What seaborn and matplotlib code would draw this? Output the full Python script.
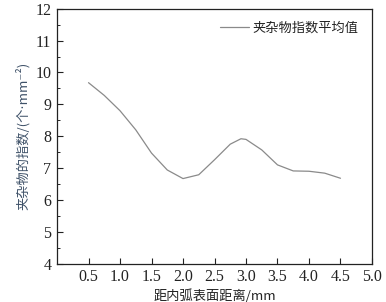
import matplotlib
matplotlib.use("Agg")
import matplotlib.pyplot as plt
from matplotlib.ticker import MultipleLocator
import pandas as pd
import seaborn as sns

# values (distance in mm, inclusion index)
distance = [0.5, 0.75, 1.0, 1.25, 1.5, 1.75, 2.0, 2.25, 2.5, 2.75,
            2.92, 3.0, 3.25, 3.5, 3.75, 4.0, 4.25, 4.5]
index_mean = [9.68, 9.28, 8.80, 8.20, 7.47, 6.94, 6.67, 6.79, 7.26, 7.75,
              7.92, 7.90, 7.57, 7.10, 6.91, 6.90, 6.84, 6.68]
x_ticks = [0.5, 1.0, 1.5, 2.0, 2.5, 3.0, 3.5, 4.0, 4.5, 5.0]
y_ticks = [4, 5, 6, 7, 8, 9, 10, 11, 12]

series_name = "夹杂物指数平均值"
x_label = "距内弧表面距离/mm"
y_label = "夹杂物的指数/(个⋅mm⁻²)"

sns.set_style("ticks")
plt.rcParams["font.family"] = ["Liberation Serif", "DejaVu Sans"]
cjk = ["Noto Sans CJK SC", "DejaVu Sans"]

df = pd.DataFrame({"distance": distance, "value": index_mean})

fig = plt.figure(figsize=(3.86, 3.02), dpi=100)
ax = fig.add_axes([0.1477, 0.127, 0.816, 0.844])

sns.lineplot(data=df, x="distance", y="value", ax=ax, color="#8a8a8a",
             linewidth=0.9, label=series_name)

ax.set_xlim(0, 5.0)
ax.set_ylim(4, 12)
ax.set_xticks(x_ticks)
ax.set_xticklabels([f"{t:.1f}" for t in x_ticks])
ax.set_yticks(y_ticks)
ax.yaxis.set_minor_locator(MultipleLocator(0.5))
ax.tick_params(axis="both", which="major", direction="in", length=4,
               width=0.8, labelsize=11.5, colors="#222222", pad=4)
ax.tick_params(axis="y", which="minor", direction="in", length=2.5, width=0.7)
for s in ax.spines.values():
    s.set_linewidth(0.9)
    s.set_color("#222222")

ax.set_xlabel(x_label, family=cjk, fontsize=9.5, color="#222222", labelpad=3)
ax.set_ylabel(y_label, family=cjk, fontsize=9.5, color="#3e5168", labelpad=4)

leg = ax.legend(loc="upper right", frameon=False, handlelength=2.2,
                handletextpad=0.3, borderaxespad=0.6,
                prop={"family": cjk, "size": 9.5})
for t in leg.get_texts():
    t.set_color("#222222")

fig.savefig("out.png", dpi=100)
